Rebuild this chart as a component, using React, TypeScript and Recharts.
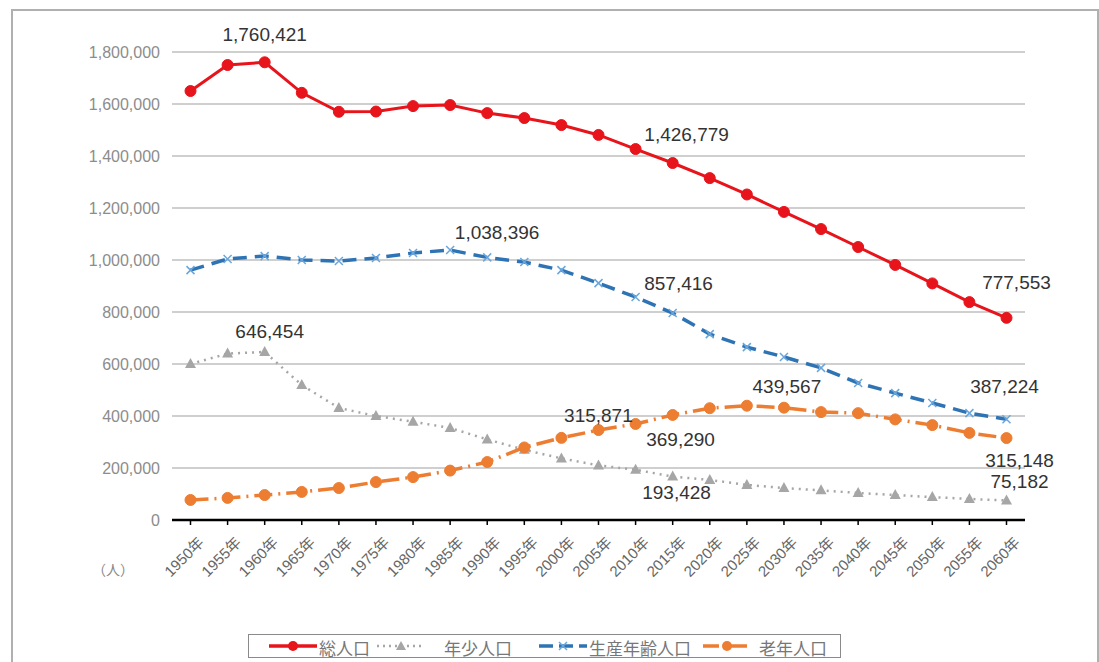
import { CartesianGrid, Line, LineChart, XAxis, YAxis } from 'recharts'

const years = [
  '1950年', '1955年', '1960年', '1965年', '1970年', '1975年', '1980年', '1985年',
  '1990年', '1995年', '2000年', '2005年', '2010年', '2015年', '2020年', '2025年',
  '2030年', '2035年', '2040年', '2045年', '2050年', '2055年', '2060年',
]

// 総人口
const total = [
  1650000, 1750000, 1760421, 1643000, 1570000, 1571000, 1592000, 1596000,
  1565000, 1546000, 1519000, 1481000, 1426779, 1373000, 1315000, 1252000,
  1185000, 1119000, 1050000, 981000, 910000, 838000, 777553,
]

// 年少人口
const young = [
  600000, 640000, 646454, 519000, 431000, 400000, 378000, 354000,
  310000, 270000, 237000, 210000, 193428, 167000, 154000, 135000,
  123000, 114000, 104000, 96000, 88000, 81000, 75182,
]

// 生産年齢人口
const working = [
  961000, 1004000, 1015000, 1000000, 996000, 1008000, 1027000, 1038396,
  1010000, 992000, 961000, 911000, 857416, 796000, 715000, 665000,
  627000, 585000, 527000, 488000, 450000, 411000, 387224,
]

// 老年人口
const elderly = [
  77000, 85000, 96000, 108000, 123000, 146000, 165000, 190000,
  223000, 279000, 315871, 346000, 369290, 404000, 430000, 439567,
  432000, 415000, 411000, 387000, 365000, 335000, 315148,
]

const yTicks = [0, 200000, 400000, 600000, 800000, 1000000, 1200000, 1400000, 1600000, 1800000]

const data = years.map((year, i) => ({
  year,
  total: total[i],
  young: young[i],
  working: working[i],
  elderly: elderly[i],
}))

// where the value labels sit, relative to their point
const labelSpots: Record<string, Record<string, [number, number]>> = {
  total: { '1960年': [0, -28], '2010年': [51, -15], '2060年': [10, -35] },
  young: { '1960年': [5, -20], '2010年': [41, 23], '2060年': [13, -19] },
  working: { '1985年': [47, -18], '2010年': [43, -14], '2060年': [-2, -33] },
  elderly: { '2000年': [37, -22], '2010年': [45, 16], '2025年': [40, -19], '2060年': [13, 22] },
}

const RED = '#e8141c'
const GRAY = '#a6a6a6'
const BLUE = '#2e74b5'
const ORANGE = '#ed7d31'
const FONT = "'Liberation Sans', Arial, 'Noto Sans CJK JP', sans-serif"

const valueLabel = (key: string) => (props: any) => {
  const { x, y, value, index } = props
  const spot = labelSpots[key][years[index]]
  if (!spot || x == null) return null
  return (
    <text
      key={`${key}-lbl-${index}`}
      x={x + spot[0]}
      y={y + spot[1]}
      textAnchor="middle"
      dominantBaseline="central"
      fill="#333"
      fontSize={19}
      fontFamily={FONT}
    >
      {Number(value).toLocaleString('en-US')}
    </text>
  )
}

const circleDot = (color: string) => (props: any) => {
  const { cx, cy, index } = props
  if (cx == null) return <g key={index} />
  return <circle key={index} cx={cx} cy={cy} r={5.5} fill={color} stroke={color} />
}

const triangleDot = (props: any) => {
  const { cx, cy, index } = props
  if (cx == null) return <g key={index} />
  return <path key={index} d={`M${cx},${cy - 6} L${cx + 5.5},${cy + 4} L${cx - 5.5},${cy + 4} Z`} fill={GRAY} />
}

const crossDot = (props: any) => {
  const { cx, cy, index } = props
  if (cx == null) return <g key={index} />
  return (
    <path
      key={index}
      d={`M${cx - 4},${cy - 4} L${cx + 4},${cy + 4} M${cx - 4},${cy + 4} L${cx + 4},${cy - 4}`}
      stroke="#6aa6dc"
      strokeWidth={1.5}
    />
  )
}

const YearTick = (props: any) => {
  const { x, y, payload } = props
  return (
    <g transform={`translate(${x + 7},${y + 9})`}>
      <text x={0} y={0} dy="0.7em" textAnchor="end" transform="rotate(-45)" fill="#666" fontSize={15} fontFamily={FONT}>
        {payload.value}
      </text>
    </g>
  )
}

const legendItems = [
  { name: '総人口', color: RED, dash: undefined, marker: 'circle', left: 266, textLeft: 318 },
  { name: '年少人口', color: GRAY, dash: '2 4', marker: 'triangle', left: 374, textLeft: 443 },
  { name: '生産年齢人口', color: BLUE, dash: '14 6', marker: 'cross', left: 536, textLeft: 588 },
  { name: '老年人口', color: ORANGE, dash: '16 5 2 5', marker: 'circle', left: 700, textLeft: 758 },
]

function LegendIcon(props: { color: string; dash?: string; marker: string }) {
  const { color, dash, marker } = props
  return (
    <svg width={52} height={16}>
      <line x1={2} y1={8} x2={50} y2={8} stroke={color} strokeWidth={marker === 'triangle' ? 2.5 : 3.5} strokeDasharray={dash} />
      {marker === 'circle' && <circle cx={26} cy={8} r={5} fill={color} />}
      {marker === 'triangle' && <path d="M26,3 L31,12 L21,12 Z" fill={color} />}
      {marker === 'cross' && <path d="M22,4 L30,12 M22,12 L30,4" stroke="#6aa6dc" strokeWidth={1.5} />}
    </svg>
  )
}

export default function App() {
  return (
    <div style={{ position: 'absolute', left: 0, top: 0, width: 1099, height: 662, overflow: 'hidden', background: '#fff' }}>
      <div
        style={{
          position: 'absolute',
          left: 11,
          top: 9,
          width: 1084,
          height: 700,
          border: '2px solid #b0b0b0',
        }}
      />
      <div style={{ position: 'absolute', left: 0, top: 0 }}>
        <LineChart width={1099} height={662} data={data} margin={{ top: 52, right: 74, bottom: 82, left: 72 }}>
          <CartesianGrid vertical={false} stroke="#a0a0a0" strokeWidth={1.2} />
          <XAxis
            dataKey="year"
            interval={0}
            height={60}
            padding={{ left: 18.5, right: 18.5 }}
            tick={<YearTick />}
            axisLine={{ stroke: '#000', strokeWidth: 2.5 }}
            tickLine={{ stroke: '#000', strokeWidth: 1.5 }}
            tickSize={5}
          />
          <YAxis
            width={100}
            domain={[0, 1800000]}
            ticks={yTicks}
            interval={0}
            axisLine={false}
            tickLine={false}
            tickMargin={6}
            tick={{ fill: '#8c8c8c', fontSize: 16, fontFamily: FONT }}
            tickFormatter={(v: number) => v.toLocaleString('en-US')}
          />
          <Line
            dataKey="young"
            type="linear"
            stroke={GRAY}
            strokeWidth={2.5}
            strokeDasharray="2 5"
            dot={triangleDot}
            label={valueLabel('young')}
            isAnimationActive={false}
          />
          <Line
            dataKey="elderly"
            type="linear"
            stroke={ORANGE}
            strokeWidth={3.5}
            strokeDasharray="18 6 2 6"
            dot={circleDot(ORANGE)}
            label={valueLabel('elderly')}
            isAnimationActive={false}
          />
          <Line
            dataKey="working"
            type="linear"
            stroke={BLUE}
            strokeWidth={3.5}
            strokeDasharray="14 8"
            dot={crossDot}
            label={valueLabel('working')}
            isAnimationActive={false}
          />
          <Line
            dataKey="total"
            type="linear"
            stroke={RED}
            strokeWidth={3}
            dot={circleDot(RED)}
            label={valueLabel('total')}
            isAnimationActive={false}
          />
        </LineChart>
      </div>
      <div style={{ position: 'absolute', left: 92, top: 559, fontSize: 14, color: '#888', fontFamily: FONT }}>（人）</div>
      <div
        style={{
          position: 'absolute',
          left: 248,
          top: 634,
          width: 591,
          height: 22,
          border: '1.5px solid #8a8a8a',
          fontFamily: FONT,
        }}
      >
        {legendItems.map((it) => (
          <div key={it.name}>
            <div style={{ position: 'absolute', left: it.left - 248, top: 3 }}>
              <LegendIcon color={it.color} dash={it.dash} marker={it.marker} />
            </div>
            <div style={{ position: 'absolute', left: it.textLeft - 248, top: 0, fontSize: 17, color: '#777', whiteSpace: 'nowrap' }}>
              {it.name}
            </div>
          </div>
        ))}
      </div>
    </div>
  )
}
